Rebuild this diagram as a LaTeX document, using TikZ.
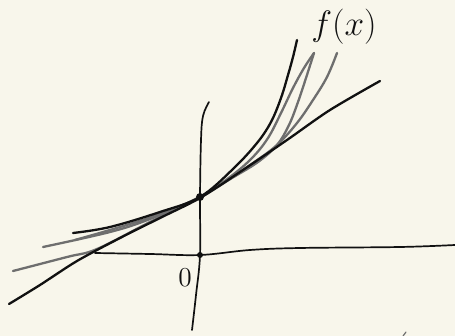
\documentclass[tikz,border=0pt]{standalone}
\definecolor{paper}{HTML}{F8F6EB}
\definecolor{pencil}{HTML}{111111}
\definecolor{graypen}{HTML}{6E6E6E}
\tikzset{
  ink/.style={draw=pencil, line width=2.3pt, line cap=round, line join=round},
  axisink/.style={draw=pencil, line width=1.7pt, line cap=round, line join=round},
  grayink/.style={draw=graypen, line width=2.3pt, line cap=round, line join=round},
  dotink/.style={fill=pencil, circle, inner sep=0pt},
  handlabel/.style={inner sep=0pt, text=pencil},
}
\begin{document}
\begin{tikzpicture}[x=1pt,y=-1pt]
\fill[paper] (0,0) rectangle (455,336);
\useasboundingbox (0,0) rectangle (455,336);
% axes
\draw[axisink] plot[smooth, tension=0.6] coordinates {(95,253) (150,254) (200,255) (250,250) (300,248) (400,247) (455,245)};
\draw[axisink] plot[smooth, tension=0.6] coordinates {(209,102) (203,116) (201,140) (200,197) (200,255) (196,295) (192,330)};
% gray approximations
\draw[grayink] plot[smooth, tension=0.6] coordinates {(13,271) (67,257) (97,249) (150,222) (200,197) (227,180) (253,163) (277,145) (297,123) (313,100) (327,77) (337,53)};
\draw[grayink] plot[smooth, tension=0.6] coordinates {(43,247) (110,232) (150,219) (200,197) (232,178) (258,162) (277,145) (289,125) (298,102) (306,78) (314,53)};
\draw[grayink] plot[smooth, tension=0.6] coordinates {(75,240) (120,227) (160,214) (200,197) (230,177) (252,158) (268,138) (281,113) (293,88) (304,68) (314,53)};
% tangent line
\draw[ink] plot[smooth, tension=0.5] coordinates {(9,304) (40,285) (77,261) (120,238) (160,218) (200,198) (240,172) (287,140) (330,110) (380,81)};
% f(x)
\draw[ink] plot[smooth, tension=0.6] coordinates {(73,233) (110,227) (160,212) (200,197) (233,169) (257,143) (271,122) (281,98) (288,75) (293,57) (297,40)};
% points
\node[dotink, minimum size=8pt] (p) at (200,197) {};
\node[dotink, minimum size=6pt] (o) at (200,255) {};
% labels
\node[handlabel, scale=1.7] (fl) at (344,27) {\huge $f(x)$};
\node[handlabel, scale=1.9] (zl) at (185,278) {\Large $0$};
% tiny mark
\draw[graypen, line width=1.2pt, line cap=round] (403,336) -- (406,332);
\end{tikzpicture}
\end{document}
